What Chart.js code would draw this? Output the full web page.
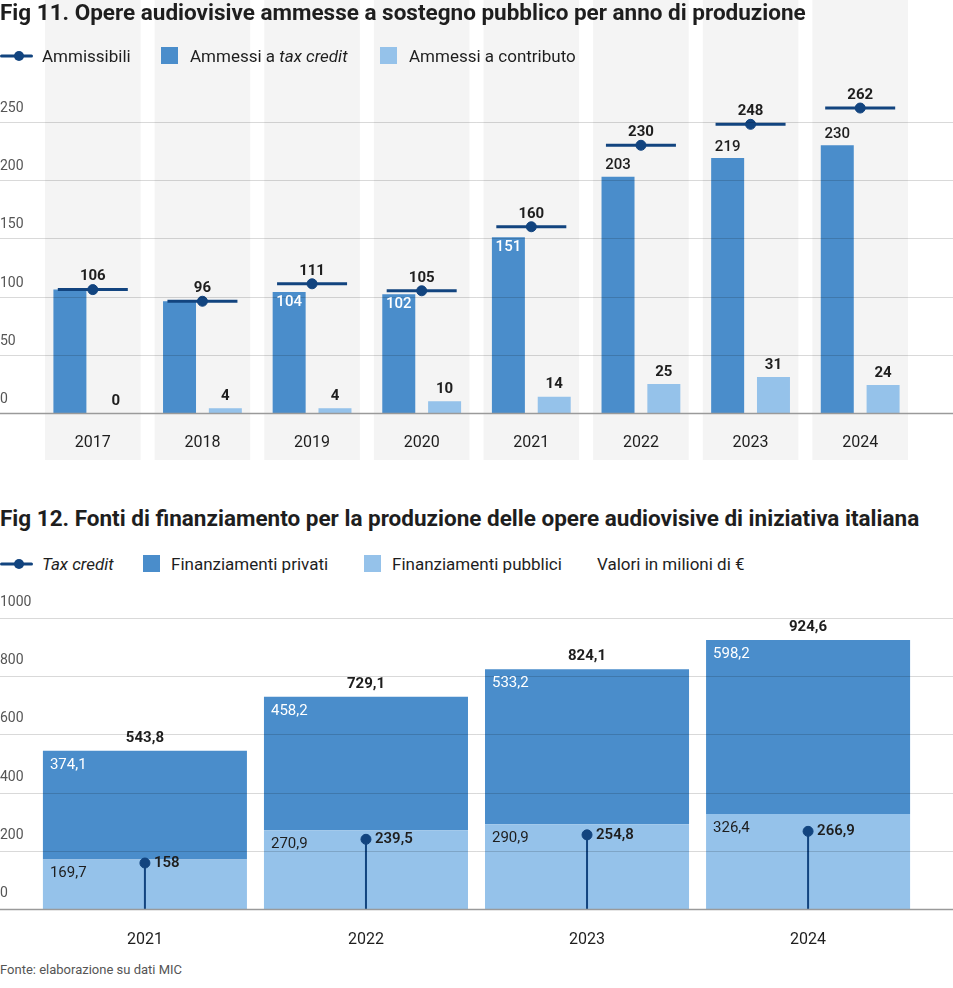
<!DOCTYPE html>
<html lang="it">
<head>
<meta charset="utf-8">
<title>Fig 11 – Fig 12</title>
<script src="https://cdn.jsdelivr.net/npm/chart.js@4.4.1/dist/chart.umd.min.js"></script>
<style>
  html, body { margin: 0; padding: 0; background: #fff; }
  body { width: 953px; height: 988px; position: relative; overflow: hidden;
         font-family: Roboto, 'Noto Sans', sans-serif; color: #1e1e1e; }
  .abs { position: absolute; white-space: nowrap; }
  .title { left: 0; font-weight: 700; font-size: 22.5px; line-height: 24px; }
  .leg { font-size: 17px; line-height: 20px; }
  .sq { position: absolute; width: 17px; height: 17px; }
  .note { left: 0; font-size: 13px; line-height: 16px; color: #555; }
  canvas { position: absolute; left: 0; }
</style>
</head>
<body>

<canvas id="chart11" width="953" height="462" style="top:0"></canvas>
<div class="abs title" style="top:0">Fig 11. Opere audiovisive ammesse a sostegno pubblico per anno di produzione</div>
<svg class="abs" style="left:0; top:50px" width="33" height="12"><line x1="1.5" y1="6" x2="31.5" y2="6" stroke="#12447f" stroke-width="3" stroke-linecap="round"/><circle cx="19" cy="6" r="5" fill="#12447f"/></svg>
<div class="abs leg" style="left:42px; top:46px">Ammissibili</div>
<div class="sq" style="left:161px; top:47px; background:#4a8dcb"></div>
<div class="abs leg" style="left:190px; top:46px">Ammessi a <i>tax credit</i></div>
<div class="sq" style="left:380px; top:47px; background:#95c2ea"></div>
<div class="abs leg" style="left:409px; top:46px">Ammessi a contributo</div>

<canvas id="chart12" width="953" height="380" style="top:580px"></canvas>
<div class="abs title" style="top:506px">Fig 12. Fonti di finanziamento per la produzione delle opere audiovisive di iniziativa italiana</div>
<svg class="abs" style="left:0; top:558px" width="33" height="12"><line x1="1.5" y1="6" x2="31.5" y2="6" stroke="#12447f" stroke-width="3" stroke-linecap="round"/><circle cx="19" cy="6" r="5" fill="#12447f"/></svg>
<div class="abs leg" style="left:42px; top:554px"><i>Tax credit</i></div>
<div class="sq" style="left:143px; top:555px; background:#4a8dcb"></div>
<div class="abs leg" style="left:171px; top:554px">Finanziamenti privati</div>
<div class="sq" style="left:364px; top:555px; background:#95c2ea"></div>
<div class="abs leg" style="left:392px; top:554px">Finanziamenti pubblici</div>
<div class="abs leg" style="left:597px; top:554px">Valori in milioni di €</div>

<div class="abs note" style="top:962px">Fonte: elaborazione su dati MIC</div>

<script>
// Fig 11 data
const years11 = ['2017', '2018', '2019', '2020', '2021', '2022', '2023', '2024'];
const ammissibili = [106, 96, 111, 105, 160, 230, 248, 262];
const ammessiTaxCredit = [106, 96, 104, 102, 151, 203, 219, 230];
const ammessiContributo = [0, 4, 4, 10, 14, 25, 31, 24];
const yTicks11 = [0, 50, 100, 150, 200, 250];

// Fig 12 data (milioni di €)
const years12 = ['2021', '2022', '2023', '2024'];
const taxCredit = [158, 239.5, 254.8, 266.9];
const finPrivati = [374.1, 458.2, 533.2, 598.2];
const finPubblici = [169.7, 270.9, 290.9, 326.4];
const yTicks12 = [0, 200, 400, 600, 800, 1000];

const NAVY = '#12447f';
const DARK = '#4a8dcb';
const LIGHT = '#95c2ea';
const BAND = '#f4f4f4';
const INK = '#1e1e1e';
const FONT = 'Roboto, "Noto Sans", sans-serif';

const fmt = v => String(v).replace('.', ',');

// gridlines run across the whole canvas, labels sit above them on the left
function fullGrid(ticks, labelGap) {
  return {
    id: 'fullGrid',
    afterDatasetsDraw(chart) {
      const { ctx, scales: { y } } = chart;
      ctx.save();
      ctx.font = '14px ' + FONT;
      ctx.fillStyle = '#555';
      ctx.textAlign = 'left';
      ctx.textBaseline = 'middle';
      ticks.forEach(v => {
        const py = Math.round(y.getPixelForValue(v)) + 0.5;
        ctx.beginPath();
        ctx.strokeStyle = v === 0 ? '#9a9a9a' : 'rgba(0,0,0,0.15)';
        ctx.lineWidth = v === 0 ? 1.5 : 1;
        ctx.moveTo(0, py);
        ctx.lineTo(chart.width, py);
        ctx.stroke();
        ctx.fillText(String(v), 0, py - labelGap);
      });
      ctx.restore();
    }
  };
}

// grey column behind every year of Fig 11
const bands = {
  id: 'bands',
  beforeDraw(chart) {
    const { ctx, scales: { x } } = chart;
    const step = x.getPixelForValue(1) - x.getPixelForValue(0);
    const w = step * 0.872;
    ctx.save();
    ctx.fillStyle = BAND;
    years11.forEach((_, i) => {
      ctx.fillRect(x.getPixelForValue(i) - w / 2, 0, w, 460);
    });
    ctx.restore();
  }
};

const labels11 = {
  id: 'labels11',
  afterDatasetsDraw(chart) {
    const { ctx } = chart;
    ctx.save();
    ctx.textAlign = 'center';
    ctx.textBaseline = 'middle';

    ctx.font = 'bold 15px ' + FONT;
    ctx.fillStyle = INK;
    chart.getDatasetMeta(1).data.forEach((el, i) => {
      ctx.fillText(fmt(ammissibili[i]), el.x, el.y - 13);
    });

    // tax credit: no label when equal to ammissibili, inside when close to it
    ctx.font = '500 15px ' + FONT;
    chart.getDatasetMeta(2).data.forEach((el, i) => {
      const gap = ammissibili[i] - ammessiTaxCredit[i];
      if (gap === 0) return;
      if (gap < 20) {
        ctx.fillStyle = '#fff';
        ctx.fillText(fmt(ammessiTaxCredit[i]), el.x, el.y + 10);
      } else {
        ctx.fillStyle = INK;
        ctx.fillText(fmt(ammessiTaxCredit[i]), el.x, el.y - 11);
      }
    });

    ctx.font = 'bold 15px ' + FONT;
    ctx.fillStyle = INK;
    chart.getDatasetMeta(3).data.forEach((el, i) => {
      ctx.fillText(fmt(ammessiContributo[i]), el.x, el.y - 12);
    });
    ctx.restore();
  }
};

const labels12 = {
  id: 'labels12',
  afterDatasetsDraw(chart) {
    const { ctx } = chart;
    const dots = chart.getDatasetMeta(0).data;
    const pub = chart.getDatasetMeta(2).data;
    const priv = chart.getDatasetMeta(3).data;
    ctx.save();
    ctx.textBaseline = 'middle';
    priv.forEach((el, i) => {
      const left = el.x - el.width / 2 + 7;
      ctx.textAlign = 'left';
      ctx.font = '15px ' + FONT;
      ctx.fillStyle = '#fff';
      ctx.fillText(fmt(finPrivati[i]), left, el.y + 14);
      ctx.fillStyle = INK;
      ctx.fillText(fmt(finPubblici[i]), left, pub[i].y + 14);

      const total = Math.round((finPrivati[i] + finPubblici[i]) * 10) / 10;
      ctx.textAlign = 'center';
      ctx.font = 'bold 15px ' + FONT;
      ctx.fillText(fmt(total), el.x, el.y - 13);
    });
    ctx.textAlign = 'left';
    ctx.font = '600 15px ' + FONT;
    ctx.fillStyle = INK;
    dots.forEach((el, i) => {
      ctx.fillText(fmt(taxCredit[i]), el.x + 9, el.y);
    });
    ctx.restore();
  }
};

const xAxis = (height, pad) => ({
  grid: { display: false },
  border: { display: false },
  ticks: { color: '#1e1e1e', padding: pad, font: { family: FONT, size: 16 } },
  afterFit: s => { s.height = height; }
});

// Fig 11: 0 at y=413, 250 at y=122 (page px)
new Chart(document.getElementById('chart11'), {
  data: {
    labels: years11,
    datasets: [
      {
        type: 'line',
        label: 'Ammissibili',
        data: ammissibili,
        showLine: false,
        pointStyle: 'line',
        pointRadius: 35,
        pointBorderWidth: 3,
        pointBorderColor: NAVY,
        order: 1
      },
      {
        type: 'line',
        label: 'Ammissibili',
        data: ammissibili,
        showLine: false,
        pointStyle: 'circle',
        pointRadius: 5,
        pointBackgroundColor: NAVY,
        pointBorderColor: NAVY,
        pointBorderWidth: 1,
        order: 0
      },
      {
        type: 'bar',
        label: 'Ammessi a tax credit',
        data: ammessiTaxCredit,
        backgroundColor: DARK,
        categoryPercentage: 0.836,
        barPercentage: 0.72,
        order: 2
      },
      {
        type: 'bar',
        label: 'Ammessi a contributo',
        data: ammessiContributo,
        backgroundColor: LIGHT,
        categoryPercentage: 0.836,
        barPercentage: 0.72,
        order: 2
      }
    ]
  },
  options: {
    responsive: false,
    animation: false,
    events: [],
    layout: { padding: { top: 63.8, left: 36, right: 36, bottom: 0 } },
    plugins: { legend: { display: false }, tooltip: { enabled: false } },
    scales: {
      x: xAxis(49, 12),
      y: { display: false, min: 0, max: 300 }
    }
  },
  plugins: [bands, fullGrid(yTicks11, 14), labels11]
});

// Fig 12: 0 at y=909, 1000 at y=618 (page px)
new Chart(document.getElementById('chart12'), {
  data: {
    labels: years12,
    datasets: [
      {
        type: 'line',
        label: 'Tax credit',
        data: taxCredit,
        showLine: false,
        pointStyle: 'circle',
        pointRadius: 5,
        pointBackgroundColor: NAVY,
        pointBorderColor: NAVY,
        stack: 'dot',
        order: 0
      },
      {
        type: 'bar',
        label: 'Tax credit',
        data: taxCredit,
        backgroundColor: NAVY,
        grouped: false,
        maxBarThickness: 2,
        stack: 'tc',
        order: 1
      },
      {
        type: 'bar',
        label: 'Finanziamenti pubblici',
        data: finPubblici,
        backgroundColor: LIGHT,
        categoryPercentage: 1,
        barPercentage: 0.923,
        stack: 'fin',
        order: 2
      },
      {
        type: 'bar',
        label: 'Finanziamenti privati',
        data: finPrivati,
        backgroundColor: DARK,
        categoryPercentage: 1,
        barPercentage: 0.923,
        stack: 'fin',
        order: 2
      }
    ]
  },
  options: {
    responsive: false,
    animation: false,
    events: [],
    layout: { padding: { top: 8.9, left: 34.4, right: 34.4, bottom: 0 } },
    plugins: { legend: { display: false }, tooltip: { enabled: false } },
    scales: {
      x: Object.assign(xAxis(51, 13), { stacked: true }),
      y: { display: false, stacked: true, min: 0, max: 1100 }
    }
  },
  plugins: [fullGrid(yTicks12, 16), labels12]
});
</script>
</body>
</html>
